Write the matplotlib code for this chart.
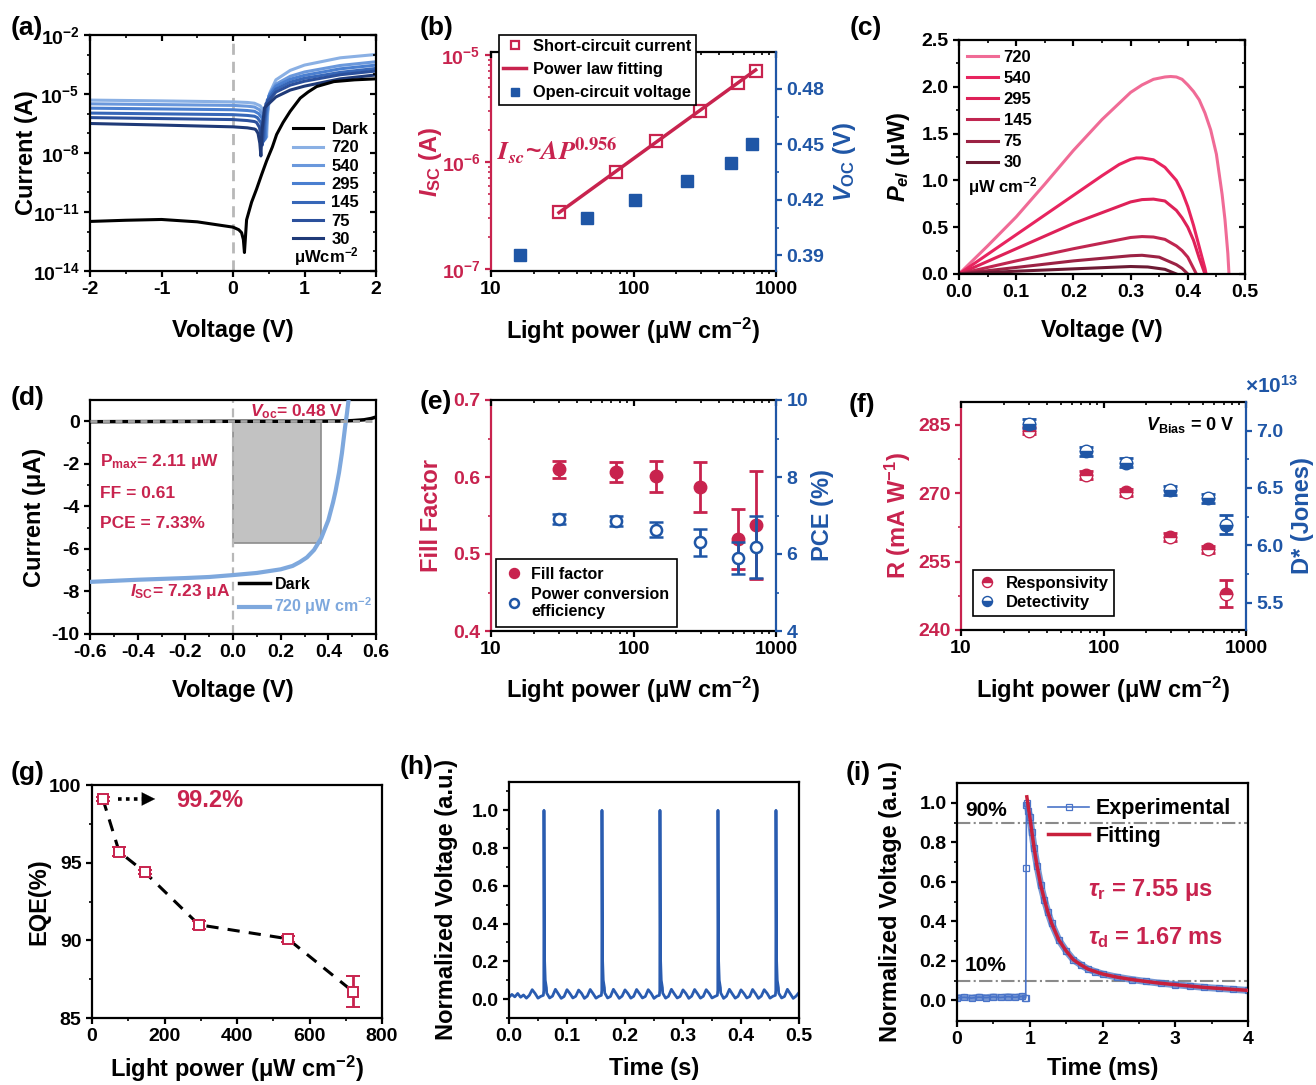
import numpy as np
import matplotlib
matplotlib.use("Agg")
import matplotlib.pyplot as plt
from matplotlib.ticker import NullFormatter
from matplotlib.patches import Rectangle

plt.rcParams.update({
    "font.family": "Liberation Sans",
    "font.weight": "bold",
    "font.size": 14,
    "axes.labelweight": "bold",
    "axes.linewidth": 1.6,
    "xtick.major.width": 1.6, "ytick.major.width": 1.6,
    "xtick.minor.width": 1.2, "ytick.minor.width": 1.2,
    "xtick.major.size": 4.5, "ytick.major.size": 4.5,
    "xtick.minor.size": 2.5, "ytick.minor.size": 2.5,
    "xtick.major.pad": 3, "ytick.major.pad": 3,
    "axes.unicode_minus": False,
    "mathtext.fontset": "custom",
    "mathtext.rm": "Liberation Sans:bold",
    "mathtext.it": "Liberation Sans:italic:bold",
    "mathtext.bf": "Liberation Sans:bold",
    "mathtext.sf": "Liberation Sans:bold",
    "legend.frameon": False,
})

W, H = 1316, 1085
RED = "#c8234e"
BLUE = "#1f56a6"
LIGHT_BLUE = "#7ea8dd"
POWER_LABEL = "Light power (μW cm$^{-2}$)"

# ---------------- data ----------------
# (a) log I-V, dark and under light
levels = ["720", "540", "295", "145", "75", "30"]
dark_v = [-2.0, -1.5, -1.0, -0.5, 0.0, 0.08, 0.12, 0.145, 0.16, 0.19, 0.26, 0.33,
          0.40, 0.47, 0.55, 0.61, 0.70, 0.80, 0.94, 1.05, 1.17, 1.41, 1.7, 2.0]
dark_logi = [-11.48, -11.42, -11.38, -11.5, -11.77, -11.9, -12.05, -12.4, -13.06, -11.4, -10.5, -9.83,
             -9.1, -8.4, -7.7, -7.06, -6.45, -5.88, -5.21, -4.9, -4.62, -4.37, -4.28, -4.23]
light_v = [
    [-2, -1, 0, 0.2, 0.3, 0.38, 0.43, 0.455, 0.47, 0.485, 0.52, 0.6, 0.8, 1.0, 1.5, 2.0],
    [-2, -1, 0, 0.2, 0.3, 0.37, 0.42, 0.445, 0.46, 0.475, 0.51, 0.6, 0.8, 1.0, 1.5, 2.0],
    [-2, -1, 0, 0.2, 0.3, 0.36, 0.41, 0.435, 0.45, 0.465, 0.50, 0.6, 0.8, 1.0, 1.5, 2.0],
    [-2, -1, 0, 0.2, 0.3, 0.34, 0.39, 0.415, 0.43, 0.445, 0.48, 0.6, 0.8, 1.0, 1.5, 2.0],
    [-2, -1, 0, 0.2, 0.3, 0.33, 0.37, 0.395, 0.41, 0.425, 0.46, 0.6, 0.8, 1.0, 1.5, 2.0],
    [-2, -1, 0, 0.2, 0.3, 0.32, 0.35, 0.375, 0.39, 0.405, 0.44, 0.6, 0.8, 1.0, 1.5, 2.0],
]
light_logi = [
    [-5.31, -5.35, -5.40, -5.43, -5.47, -5.6, -5.85, -6.4, -7.2, -6.0, -4.9, -4.28, -3.8, -3.53, -3.16, -2.99],
    [-5.50, -5.54, -5.58, -5.62, -5.66, -5.8, -6.05, -6.6, -7.2, -6.1, -5.0, -4.5, -4.1, -3.88, -3.55, -3.36],
    [-5.72, -5.76, -5.80, -5.84, -5.88, -6.0, -6.25, -6.8, -7.3, -6.2, -5.1, -4.6, -4.25, -4.05, -3.72, -3.53],
    [-5.97, -6.01, -6.05, -6.09, -6.13, -6.2, -6.45, -7.0, -7.4, -6.4, -5.3, -4.75, -4.4, -4.2, -3.9, -3.70],
    [-6.20, -6.25, -6.30, -6.35, -6.40, -6.45, -6.7, -7.2, -7.6, -6.6, -5.5, -4.9, -4.55, -4.35, -4.02, -3.83],
    [-6.50, -6.58, -6.67, -6.72, -6.78, -6.82, -7.0, -7.5, -8.15, -6.9, -5.7, -5.15, -4.8, -4.6, -4.23, -4.03],
]
light_colors = ["#8ab0e4", "#6a98dc", "#4a7fd0", "#3767b8", "#2b509c", "#1f3a78"]

# (b) short-circuit current and open-circuit voltage
isc_p = [30, 75, 145, 295, 540, 720]
isc_a = [3.4e-7, 8.05e-7, 1.55e-6, 3.0e-6, 5.4e-6, 7.1e-6]
fit_p = [30, 720]
fit_a = [3.35e-7, 7.2e-6]
voc_p = [16, 47.5, 103, 237, 487, 682]
voc_v = [0.39, 0.41, 0.42, 0.43, 0.44, 0.45]

# (c) electrical power vs voltage
pel_v = [
    [0, 0.05, 0.1, 0.15, 0.2, 0.25, 0.3, 0.32, 0.34, 0.36, 0.37, 0.38, 0.39, 0.40, 0.41, 0.42,
     0.43, 0.44, 0.45, 0.46, 0.465, 0.47, 0.472],
    [0, 0.1, 0.2, 0.25, 0.28, 0.3, 0.31, 0.32, 0.34, 0.36, 0.38, 0.39, 0.40, 0.41, 0.42, 0.43, 0.432],
    [0, 0.1, 0.2, 0.3, 0.32, 0.34, 0.36, 0.38, 0.39, 0.40, 0.41, 0.42, 0.43],
    [0, 0.1, 0.2, 0.3, 0.32, 0.34, 0.36, 0.38, 0.39, 0.40, 0.415],
    [0, 0.1, 0.2, 0.3, 0.32, 0.35, 0.38, 0.39, 0.40],
    [0, 0.1, 0.2, 0.3, 0.33, 0.36, 0.38],
]
pel_p = [
    [0, 0.30, 0.61, 0.96, 1.32, 1.65, 1.94, 2.02, 2.08, 2.105, 2.11, 2.105, 2.08, 2.02, 1.95, 1.86,
     1.72, 1.54, 1.28, 0.85, 0.58, 0.22, 0],
    [0, 0.42, 0.84, 1.05, 1.17, 1.225, 1.24, 1.24, 1.22, 1.14, 1.0, 0.88, 0.72, 0.52, 0.29, 0.06, 0],
    [0, 0.27, 0.54, 0.77, 0.795, 0.80, 0.78, 0.68, 0.60, 0.50, 0.36, 0.17, 0],
    [0, 0.14, 0.27, 0.39, 0.40, 0.395, 0.37, 0.30, 0.25, 0.18, 0],
    [0, 0.07, 0.14, 0.195, 0.2, 0.18, 0.1, 0.06, 0],
    [0, 0.03, 0.055, 0.08, 0.075, 0.05, 0],
]
pel_colors = ["#f06b96", "#e8245f", "#de2158", "#c02650", "#9c2244", "#6c1a33"]

# (d) linear I-V at 720 uW cm-2
d_dark_v = [-0.6, -0.3, 0.0, 0.3, 0.45, 0.5, 0.55, 0.58, 0.6]
d_dark_i = [-0.02, -0.01, 0.0, 0.0, 0.01, 0.03, 0.07, 0.13, 0.2]
d_light_v = [-0.6, -0.5, -0.4, -0.3, -0.2, -0.1, 0.0, 0.1, 0.2, 0.25, 0.28, 0.31, 0.34, 0.37,
             0.40, 0.42, 0.43, 0.445, 0.457, 0.47, 0.478, 0.486]
d_light_i = [-7.55, -7.5, -7.45, -7.41, -7.37, -7.32, -7.23, -7.13, -6.96, -6.8, -6.62, -6.4, -6.05, -5.5,
             -4.65, -3.8, -3.3, -2.4, -1.5, -0.3, 0.36, 1.1]
vmp, imp = 0.37, -5.7

# (e) fill factor and PCE
pw = [30, 75, 145, 295, 540, 720]
ff = [0.610, 0.607, 0.601, 0.587, 0.520, 0.538]
ff_err = [0.011, 0.013, 0.02, 0.032, 0.039, 0.07]
pce = [6.90, 6.85, 6.63, 6.31, 5.90, 6.18]
pce_err = [0.13, 0.13, 0.2, 0.35, 0.42, 0.8]

# (f) responsivity and detectivity (x1e13 Jones)
resp = [283.7, 274.0, 270.2, 260.4, 257.7, 248.0]
resp_err = [0.8, 0.8, 0.8, 0.8, 0.8, 3.0]
det = [7.06, 6.82, 6.72, 6.48, 6.41, 6.18]
det_err = [0.04, 0.04, 0.04, 0.04, 0.04, 0.08]

# (g) EQE
eqe = [99.1, 95.7, 94.4, 91.0, 90.1, 86.7]
eqe_err = [0.1, 0.3, 0.1, 0.25, 0.2, 1.0]

# (h) pulsed response, base trace sampled every 5 ms plus spikes
h_t = [i * 0.005 for i in range(101)]
h_v = [0.010, 0.025, 0.012, 0.030, 0.010, 0.022, 0.005, 0.020,
       0.050, 0.030, 0.005, 0.015,
       0.045, 0.032, 0.006, 0.016,
       0.052, 0.028, 0.004, 0.014,
       0.050, 0.030, 0.006, 0.015,
       0.048, 0.031, 0.004, 0.016,
       0.051, 0.029, 0.005, 0.015,
       0.046, 0.033, 0.006, 0.014,
       0.052, 0.028, 0.004, 0.016,
       0.049, 0.030, 0.005, 0.015,
       0.051, 0.029, 0.006, 0.014,
       0.050, 0.031, 0.004, 0.016,
       0.046, 0.032, 0.005, 0.015,
       0.052, 0.028, 0.006, 0.014,
       0.049, 0.030, 0.004, 0.016,
       0.051, 0.029, 0.005, 0.015,
       0.050, 0.031, 0.006, 0.014,
       0.046, 0.033, 0.004, 0.016,
       0.052, 0.028, 0.005, 0.015,
       0.049, 0.030, 0.006, 0.014,
       0.051, 0.029, 0.004, 0.016,
       0.050, 0.031, 0.005, 0.015,
       0.046, 0.032, 0.006, 0.014,
       0.052, 0.028, 0.004, 0.016,
       0.035]
spike_t = [0.0592, 0.0603, 0.0612, 0.0625, 0.0645,
           0.1592, 0.1603, 0.1612, 0.1625, 0.1645,
           0.2592, 0.2603, 0.2612, 0.2625, 0.2645,
           0.3592, 0.3603, 0.3612, 0.3625, 0.3645,
           0.4592, 0.4603, 0.4612, 0.4625, 0.4645]
spike_v = [0.02, 1.0, 0.22, 0.10, 0.06,
           0.02, 1.0, 0.22, 0.10, 0.06,
           0.02, 1.0, 0.22, 0.10, 0.06,
           0.02, 1.0, 0.22, 0.10, 0.06,
           0.02, 1.0, 0.22, 0.10, 0.06]

# (i) transient response (ms)
base_t = [0, 0.1, 0.2, 0.3, 0.4, 0.5, 0.6, 0.7, 0.8, 0.9, 0.94]
base_v = [0.012, 0.015, 0.011, 0.016, 0.013, 0.017, 0.014, 0.018, 0.015, 0.02, 0.012]
rise_t = [0.945, 0.95, 0.955]
rise_v = [0.012, 0.67, 0.99]
decay_t = [0.96, 0.98, 1.0, 1.03, 1.06, 1.1, 1.15, 1.2, 1.25, 1.3, 1.4, 1.5, 1.6, 1.7, 1.8,
           1.9, 2.0, 2.2, 2.4, 2.6, 2.8, 3.0, 3.2, 3.4, 3.6, 3.8, 4.0]
decay_v = [1.0, 0.96, 0.93, 0.85, 0.77, 0.68, 0.585, 0.51, 0.445, 0.39, 0.305, 0.25, 0.205, 0.18,
           0.158, 0.145, 0.133, 0.117, 0.105, 0.095, 0.086, 0.079, 0.072, 0.065, 0.06, 0.055, 0.05]
fit_v = [1.03, 0.98, 0.93, 0.85, 0.77, 0.68, 0.585, 0.51, 0.445, 0.39, 0.305, 0.25, 0.205, 0.18,
         0.158, 0.145, 0.133, 0.117, 0.105, 0.095, 0.086, 0.079, 0.072, 0.065, 0.06, 0.055, 0.05]

log_minor = [k * 10 ** e for e in (1, 2) for k in range(2, 10)]

# ---------------- helpers ----------------
fig = plt.figure(figsize=(W / 100, H / 100), dpi=100)


def frame(px):
    l, t, r, b = px
    return fig.add_axes([l / W, 1 - b / H, (r - l) / W, (b - t) / H])


def labels(ax, px, xlabel, xy, ylabel, yx, ycolor="k"):
    l, t, r, b = px
    ax.set_xlabel(xlabel, fontsize=17, va="center")
    ax.xaxis.set_label_coords(0.5, (b - xy) / (b - t))
    ax.set_ylabel(ylabel, fontsize=17, va="center", color=ycolor)
    ax.yaxis.set_label_coords((yx - l) / (r - l), 0.5)


def right_label(ax2, px, text, yx, color):
    l, t, r, b = px
    ax2.set_ylabel(text, fontsize=17, va="center", color=color)
    ax2.yaxis.set_label_coords((yx - l) / (r - l), 0.5)


def mirror(ax, xt=None, xm=(), yt=None, ym=()):
    # inward ticks on top / right like the original plots
    if xt is not None:
        tw = ax.twiny()
        tw.set_xscale(ax.get_xscale())
        tw.set_xlim(ax.get_xlim())
        tw.set_xticks(xt)
        tw.set_xticks(list(xm), minor=True)
        tw.tick_params(which="both", direction="in", labeltop=False)
        for s in tw.spines.values():
            s.set_visible(False)
    if yt is not None:
        tw = ax.twinx()
        tw.set_yscale(ax.get_yscale())
        tw.set_ylim(ax.get_ylim())
        tw.set_yticks(yt)
        tw.set_yticks(list(ym), minor=True)
        tw.tick_params(which="both", direction="in", labelright=False)
        for s in tw.spines.values():
            s.set_visible(False)


def panel(x, y, s):
    fig.text(x / W, 1 - y / H, s, ha="center", va="center", fontsize=19, fontweight="bold")


def color_twin(ax, ax2, lc, rc):
    ax.spines["left"].set_color(lc)
    ax.spines["right"].set_visible(False)
    ax.tick_params(axis="y", which="both", colors=lc)
    for side in ("left", "top", "bottom"):
        ax2.spines[side].set_visible(False)
    ax2.spines["right"].set_color(rc)
    ax2.tick_params(axis="y", which="both", colors=rc)


# ---------------- (a) ----------------
PA = (90, 35, 376, 271)
ax = frame(PA)
ax.set_yscale("log")
ax.plot(dark_v, 10 ** np.array(dark_logi), color="k", lw=2.2, label="Dark", zorder=4)
for v, li, c, lab in zip(light_v, light_logi, light_colors, levels):
    ax.plot(v, 10 ** np.array(li), color=c, lw=2.2, label=lab)
ax.axvline(0, color="#b8b8b8", ls=(0, (4, 2.5)), lw=2, zorder=1)
ax.set_xlim(-2, 2)
ax.set_ylim(1e-14, 1e-2)
ax.set_xticks([-2, -1, 0, 1, 2])
ax.set_xticks([-1.5, -0.5, 0.5, 1.5], minor=True)
ax.set_yticks([1e-14, 1e-11, 1e-8, 1e-5, 1e-2])
a_minor = [10.0 ** k for k in range(-14, -1) if (k + 14) % 3]
ax.set_yticks(a_minor, minor=True)
ax.yaxis.set_minor_formatter(NullFormatter())
ax.legend(loc="upper left", bbox_to_anchor=(0.71, 0.631), fontsize=12, handlelength=1.8,
          handletextpad=0.5, labelspacing=0.2, borderpad=0, borderaxespad=0)
ax.text(0.712, 0.06, "μWcm$^{-2}$", transform=ax.transAxes, fontsize=12, va="center")
labels(ax, PA, "Voltage (V)", 331, "Current (A)", 26)
mirror(ax, [-2, -1, 0, 1, 2], [-1.5, -0.5, 0.5, 1.5], [1e-14, 1e-11, 1e-8, 1e-5, 1e-2], a_minor)
panel(27, 28, "(a)")

# ---------------- (b) ----------------
PB = (491, 52, 776, 271)
ax = frame(PB)
ax.set_xscale("log")
ax.set_yscale("log")
h1, = ax.plot(isc_p, isc_a, "s", mfc="none", mec=RED, mew=1.6, ms=8, label="Short-circuit current", zorder=4)
h2, = ax.plot(fit_p, fit_a, color=RED, lw=2.5, label="Power law fitting")
ax.set_xlim(10, 1000)
ax.set_ylim(10 ** -7.02, 10 ** -4.975)
ax.set_xticks([10, 100, 1000], ["10", "100", "1000"])
ax.set_xticks(log_minor, minor=True)
ax.xaxis.set_minor_formatter(NullFormatter())
ax.set_yticks([1e-7, 1e-6, 1e-5])
ax.yaxis.set_minor_formatter(NullFormatter())
ax.text(0.02, 0.55, r"$\mathbfit{I_{sc}}$~$\mathbfit{AP}^{\mathbf{0.956}}$", transform=ax.transAxes,
        color=RED, fontsize=19, math_fontfamily="stix", va="center")
labels(ax, PB, POWER_LABEL, 331, r"$I_{\mathrm{SC}}$ (A)", 431, RED)
mirror(ax, [10, 100, 1000], log_minor)
ax2 = ax.twinx()
h3, = ax2.plot(voc_p, voc_v, "s", color=BLUE, ms=8, label="Open-circuit voltage")
ax2.set_ylim(0.3815, 0.4999)
ax2.set_yticks([0.39, 0.42, 0.45, 0.48])
ax2.set_yticks([0.405, 0.435, 0.465], minor=True)
color_twin(ax, ax2, RED, BLUE)
right_label(ax2, PB, r"$V_{\mathrm{OC}}$ (V)", 845, BLUE)
leg = ax2.legend(handles=[h1, h2, h3], loc="upper left", bbox_to_anchor=(0.028, 1.078), fontsize=11.8,
                 frameon=True, fancybox=False, edgecolor="k", framealpha=1, handlelength=1.4,
                 handletextpad=0.45, labelspacing=0.5, borderpad=0.25, borderaxespad=0, markerscale=0.75)
leg.get_frame().set_linewidth(1.2)
panel(437, 28, "(b)")

# ---------------- (c) ----------------
PC = (959, 40, 1245, 274)
ax = frame(PC)
for v, p, c, lab in zip(pel_v, pel_p, pel_colors, levels):
    ax.plot(v, p, color=c, lw=2.2, label=lab)
ax.set_xlim(0, 0.5)
ax.set_ylim(0, 2.5)
c_xt = [0, 0.1, 0.2, 0.3, 0.4, 0.5]
c_xm = [0.05, 0.15, 0.25, 0.35, 0.45]
c_yt = [0, 0.5, 1.0, 1.5, 2.0, 2.5]
c_ym = [0.25, 0.75, 1.25, 1.75, 2.25]
ax.set_xticks(c_xt, ["0.0", "0.1", "0.2", "0.3", "0.4", "0.5"])
ax.set_xticks(c_xm, minor=True)
ax.set_yticks(c_yt, ["0.0", "0.5", "1.0", "1.5", "2.0", "2.5"])
ax.set_yticks(c_ym, minor=True)
ax.legend(loc="upper left", bbox_to_anchor=(0.028, 0.957), fontsize=12, handlelength=1.85,
          handletextpad=0.35, labelspacing=0.365, borderpad=0, borderaxespad=0)
ax.text(0.031, 0.372, "μW cm$^{-2}$", transform=ax.transAxes, fontsize=12, va="center")
labels(ax, PC, "Voltage (V)", 331, r"$P_{el}$ (μW)", 899)
mirror(ax, c_xt, c_xm, c_yt, c_ym)
panel(866, 28, "(c)")

# ---------------- (d) ----------------
PD = (90, 400, 376, 634)
ax = frame(PD)
ax.add_patch(Rectangle((0, imp), vmp, -imp, facecolor="#c2c2c2", edgecolor="#8c8c8c", lw=1.2, zorder=1))
ax.plot(d_dark_v, d_dark_i, color="k", lw=2.5, label="Dark", zorder=3)
ax.plot(d_light_v, d_light_i, color=LIGHT_BLUE, lw=3, label="720 μW cm$^{-2}$", zorder=3)
ax.axhline(0, color="#a8a8a8", ls=(0, (2.5, 2)), lw=2, zorder=4)
ax.axvline(0, color="#b8b8b8", ls=(0, (4, 2.5)), lw=1.6, zorder=2)
ax.set_xlim(-0.6, 0.6)
ax.set_ylim(-10, 1)
ax.set_xticks([-0.6, -0.4, -0.2, 0, 0.2, 0.4, 0.6], ["-0.6", "-0.4", "-0.2", "0.0", "0.2", "0.4", "0.6"])
ax.set_xticks([-0.5, -0.3, -0.1, 0.1, 0.3, 0.5], minor=True)
ax.set_yticks([-10, -8, -6, -4, -2, 0])
ax.set_yticks([-9, -7, -5, -3, -1], minor=True)
leg = ax.legend(loc="upper left", bbox_to_anchor=(0.522, 0.245), fontsize=11.5, handlelength=1.9,
                handletextpad=0.3, labelspacing=0.25, borderpad=0, borderaxespad=0)
leg.get_texts()[1].set_color(LIGHT_BLUE)
ax.text(-0.56, -1.9, "P$_{\\mathrm{max}}$= 2.11 μW", color=RED, fontsize=12.5, va="center")
ax.text(-0.56, -3.4, "FF = 0.61", color=RED, fontsize=12.5, va="center")
ax.text(-0.56, -4.8, "PCE = 7.33%", color=RED, fontsize=12.5, va="center")
ax.text(0.07, 0.45, r"$V_{\mathrm{oc}}$= 0.48 V", color=RED, fontsize=12.5, va="center")
ax.text(-0.01, -8.0, r"$I_{\mathrm{SC}}$= 7.23 μA", color=RED, fontsize=12.5, va="center", ha="right")
labels(ax, PD, "Voltage (V)", 691, "Current (μA)", 35)
panel(28, 398, "(d)")

# ---------------- (e) ----------------
PE = (491, 400, 776, 631)
ax = frame(PE)
ax.set_xscale("log")
he1 = ax.errorbar(pw, ff, yerr=ff_err, fmt="o", color=RED, ms=9, capsize=5, elinewidth=2,
                  capthick=2, label="Fill factor", zorder=3)
ax.set_xlim(10, 1000)
ax.set_ylim(0.4, 0.7)
ax.set_xticks([10, 100, 1000], ["10", "100", "1000"])
ax.set_xticks(log_minor, minor=True)
ax.xaxis.set_minor_formatter(NullFormatter())
ax.set_yticks([0.4, 0.5, 0.6, 0.7])
ax.set_yticks([0.45, 0.55, 0.65], minor=True)
labels(ax, PE, POWER_LABEL, 690, "Fill Factor", 432, RED)
mirror(ax, [10, 100, 1000], log_minor)
ax2 = ax.twinx()
he2 = ax2.errorbar(pw, pce, yerr=pce_err, fmt="o", color=BLUE, mfc="white", mew=1.8, ms=8,
                   capsize=5, elinewidth=2, capthick=2, label="Power conversion\nefficiency")
ax2.set_ylim(4, 10)
ax2.set_yticks([4, 6, 8, 10])
ax2.set_yticks([5, 7, 9], minor=True)
color_twin(ax, ax2, RED, BLUE)
right_label(ax2, PE, "PCE (%)", 822, BLUE)
leg = ax2.legend(handles=[he1[0], he2[0]], labels=["Fill factor", "Power conversion\nefficiency"],
                 loc="lower left", bbox_to_anchor=(0.018, 0.017), fontsize=11.5, frameon=True,
                 fancybox=False, edgecolor="k", framealpha=1, handlelength=1.2, markerscale=0.8,
                 handletextpad=0.5, labelspacing=0.3, borderpad=0.5, borderaxespad=0)
leg.get_frame().set_linewidth(1.2)
panel(436, 402, "(e)")

# ---------------- (f) ----------------
PF = (961, 402, 1246, 630)
ax = frame(PF)
ax.set_xscale("log")
hf1 = ax.errorbar(pw, resp, yerr=resp_err, fmt="o", color=RED, ms=9, fillstyle="top",
                  markerfacecoloralt="white", mec=RED, capsize=5, elinewidth=2, capthick=2, zorder=3)
ax.set_xlim(10, 1000)
ax.set_ylim(240, 290)
ax.set_xticks([10, 100, 1000], ["10", "100", "1000"])
ax.set_xticks(log_minor, minor=True)
ax.xaxis.set_minor_formatter(NullFormatter())
ax.set_yticks([240, 255, 270, 285])
ax.set_yticks([247.5, 262.5, 277.5], minor=True)
labels(ax, PF, POWER_LABEL, 690, "R (mA W$^{-1}$)", 898, RED)
mirror(ax, [10, 100, 1000], log_minor)
ax2 = ax.twinx()
hf2 = ax2.errorbar(pw, det, yerr=det_err, fmt="o", color=BLUE, ms=9, fillstyle="bottom",
                   markerfacecoloralt="white", mec=BLUE, capsize=5, elinewidth=2, capthick=2)
ax2.set_ylim(5.26, 7.25)
ax2.set_yticks([5.5, 6.0, 6.5, 7.0])
ax2.set_yticks([5.75, 6.25, 6.75], minor=True)
color_twin(ax, ax2, RED, BLUE)
right_label(ax2, PF, "D* (Jones)", 1303, BLUE)
fig.text(1272 / W, 1 - 386 / H, "×10$^{13}$", color=BLUE, fontsize=15, ha="center", va="center")
ax2.text(0.96, 0.9, r"$V_{\mathrm{Bias}}$ = 0 V", transform=ax2.transAxes, fontsize=13,
         ha="right", va="center")
leg = ax2.legend(handles=[hf1[0], hf2[0]], labels=["Responsivity", "Detectivity"],
                 loc="lower left", bbox_to_anchor=(0.042, 0.061), fontsize=12, frameon=True,
                 fancybox=False, edgecolor="k", framealpha=1, handlelength=1.0, markerscale=0.8,
                 handletextpad=0.6, labelspacing=0.25, borderpad=0.35, borderaxespad=0)
leg.get_frame().set_linewidth(1.2)
panel(862, 405, "(f)")

# ---------------- (g) ----------------
PG = (92, 785, 382, 1018)
ax = frame(PG)
ax.plot(pw, eqe, color="k", lw=2.2, ls=(0, (4, 3)), zorder=2)
ax.errorbar(pw, eqe, yerr=eqe_err, fmt="s", color=RED, mfc="white", mew=1.4, ms=7,
            capsize=5, elinewidth=2, capthick=2, zorder=3)
ax.plot([72, 142], [99.1, 99.1], color="k", lw=2.6, ls=(0, (1, 1.2)))
ax.annotate("", xy=(182, 99.1), xytext=(140, 99.1),
            arrowprops=dict(arrowstyle="-|>", color="k", lw=0.1, mutation_scale=24))
ax.text(232, 99.0, "99.2%", color=RED, fontsize=17, va="center")
ax.set_xlim(0, 800)
ax.set_ylim(85, 100)
ax.set_xticks([0, 200, 400, 600, 800])
ax.set_xticks([100, 300, 500, 700], minor=True)
ax.set_yticks([85, 90, 95, 100])
ax.set_yticks([87.5, 92.5, 97.5], minor=True)
labels(ax, PG, POWER_LABEL, 1069, "EQE(%)", 39)
panel(28, 773, "(g)")

# ---------------- (h) ----------------
PH = (509, 782, 799, 1018)
ax = frame(PH)
ht = np.concatenate([h_t, spike_t])
hv = np.concatenate([h_v, spike_v])
order = np.argsort(ht)
ax.plot(ht[order], hv[order], color="#2a5cb0", lw=2.0)
ax.set_xlim(0, 0.5)
ax.set_ylim(-0.1, 1.15)
ax.set_xticks([0, 0.1, 0.2, 0.3, 0.4, 0.5], ["0.0", "0.1", "0.2", "0.3", "0.4", "0.5"])
ax.set_xticks([0.05, 0.15, 0.25, 0.35, 0.45], minor=True)
ax.set_yticks([0, 0.2, 0.4, 0.6, 0.8, 1.0], ["0.0", "0.2", "0.4", "0.6", "0.8", "1.0"])
ax.set_yticks([-0.1, 0.1, 0.3, 0.5, 0.7, 0.9, 1.1], minor=True)
labels(ax, PH, "Time (s)", 1069, "Normalized Voltage (a.u.)", 447)
panel(417, 767, "(h)")

# ---------------- (i) ----------------
PI = (957, 783, 1248, 1021)
ax = frame(PI)
ax.axhline(0.9, color="#8a8a8a", ls="-.", lw=1.5, zorder=1)
ax.axhline(0.1, color="#8a8a8a", ls="-.", lw=1.5, zorder=1)
ax.plot(base_t, base_v, color="#4b76c6", lw=5, alpha=0.75, solid_capstyle="butt")
ax.plot(decay_t, decay_v, color="#4b76c6", lw=5, alpha=0.75, solid_capstyle="butt")
exp_t = base_t + rise_t + decay_t
exp_v = base_v + rise_v + decay_v
ax.plot(exp_t, exp_v, color="#4a74c8", lw=1.2, marker="s", ms=4, mfc="none", mew=0.9,
        label="Experimental")
ax.plot(decay_t, fit_v, color="#c8203c", lw=2.5, label="Fitting", zorder=5)
ax.set_xlim(0, 4)
ax.set_ylim(-0.105, 1.1)
ax.set_xticks([0, 1, 2, 3, 4])
ax.set_xticks([0.5, 1.5, 2.5, 3.5], minor=True)
ax.set_yticks([0, 0.2, 0.4, 0.6, 0.8, 1.0], ["0.0", "0.2", "0.4", "0.6", "0.8", "1.0"])
ax.set_yticks([0.1, 0.3, 0.5, 0.7, 0.9], minor=True)
ax.legend(loc="upper left", bbox_to_anchor=(0.313, 0.935), fontsize=15.5, handlelength=1.9,
          handletextpad=0.33, labelspacing=0.29, borderpad=0, borderaxespad=0)
ax.text(0.11, 0.963, "90%", fontsize=15, va="center")
ax.text(0.11, 0.177, "10%", fontsize=15, va="center")
ax.text(1.8, 0.557, r"$\tau_{\mathrm{r}}$ = 7.55 μs", color=RED, fontsize=17, va="center")
ax.text(1.8, 0.32, r"$\tau_{\mathrm{d}}$ = 1.67 ms", color=RED, fontsize=17, va="center")
labels(ax, PI, "Time (ms)", 1069, "Normalized Voltage (a.u.)", 890)
panel(858, 773, "(i)")

fig.savefig("out.png", dpi=100)
